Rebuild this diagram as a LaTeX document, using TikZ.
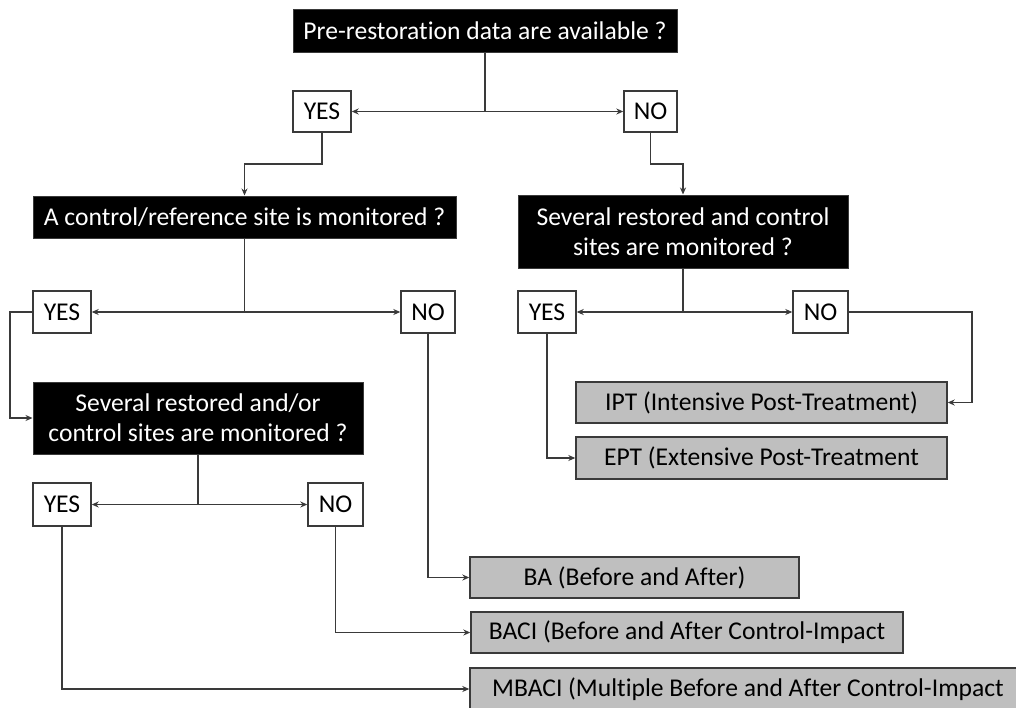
\documentclass[tikz,border=0pt]{standalone}
\usepackage{fontspec}
\setmainfont{Carlito}[Ligatures={NoCommon}]
\usetikzlibrary{arrows.meta}
\definecolor{lc}{HTML}{3A3A3A}
\definecolor{rg}{HTML}{BFBFBF}
\tikzset{
  base/.style={inner sep=0pt, align=center, font=\fontsize{25.6}{30}\selectfont},
  qbox/.style={base, fill=black, draw=lc, line width=1pt, text=white},
  ybox/.style={base, fill=white, draw=lc, line width=1.4pt, text=black},
  rbox/.style={base, fill=rg, draw=lc, line width=1.4pt, text=black},
  conn/.style={draw=lc, line width=1.5pt, -{Stealth[length=7pt,width=6pt]}}
}
\begin{document}
\begin{tikzpicture}[x=1pt,y=-1pt]
\useasboundingbox (0,0) rectangle (1016,707);
\clip (0,0) rectangle (1016,707);
% questions
\node[qbox, minimum width=384pt, minimum height=43pt] (q1) at (485,30.5) {Pre-restoration data are available ?};
\node[qbox, minimum width=423pt, minimum height=42pt] (q2) at (244.5,217) {A control/reference site is monitored ?};
\node[qbox, minimum width=330pt, minimum height=73pt] (q3) at (683,231.5) {Several restored and control\\sites are monitored ?};
\node[qbox, minimum width=330pt, minimum height=72pt] (q4) at (198,418) {Several restored and/or\\control sites are monitored ?};
% yes / no
\node[ybox, minimum width=58pt, minimum height=41pt] (y1) at (322,111.5) {YES};
\node[ybox, minimum width=53pt, minimum height=41pt] (n1) at (650.5,111.5) {NO};
\node[ybox, minimum width=58pt, minimum height=42pt] (y2) at (62,312) {YES};
\node[ybox, minimum width=54pt, minimum height=42pt] (n2) at (428,312) {NO};
\node[ybox, minimum width=58pt, minimum height=42pt] (y3r) at (547,312) {YES};
\node[ybox, minimum width=55pt, minimum height=42pt] (n3r) at (820.5,312) {NO};
\node[ybox, minimum width=58pt, minimum height=43pt] (y3) at (62,504.5) {YES};
\node[ybox, minimum width=55pt, minimum height=43pt] (n3) at (335.5,504.5) {NO};
% results
\node[rbox, minimum width=371pt, minimum height=41pt] (ipt) at (761.5,402.5) {IPT (Intensive Post-Treatment)};
\node[rbox, minimum width=371pt, minimum height=42pt] (ept) at (761.5,458) {EPT (Extensive Post-Treatment};
\node[rbox, minimum width=329pt, minimum height=41pt] (ba) at (634.5,577.5) {BA (Before and After)};
\node[rbox, minimum width=432pt, minimum height=41pt] (baci) at (687,632.5) {BACI (Before and After Control-Impact};
\node[rbox, minimum width=556pt, minimum height=42pt] (mbaci) at (748,689) {MBACI (Multiple Before and After Control-Impact};
% helper coordinates
\coordinate (k1) at (0,164);
\coordinate (k2) at (10,0);
\coordinate (k3) at (972,0);
% connectors
\draw[conn] (q1.south) |- (y1.east);
\draw[conn] (q1.south) |- (n1.west);
\draw[conn] (y1.south) -- (y1.south |- k1) -| (q2.north);
\draw[conn] (n1.south) -- (n1.south |- k1) -| (q3.north);
\draw[conn] (q2.south) |- (y2.east);
\draw[conn] (q2.south) |- (n2.west);
\draw[conn] (q3.south) |- (y3r.east);
\draw[conn] (q3.south) |- (n3r.west);
\draw[conn] (y2.west) -- (k2 |- y2.west) |- (q4.west);
\draw[conn] (n3r.east) -- (k3 |- n3r.east) |- (ipt.east);
\draw[conn] (y3r.south) |- (ept.west);
\draw[conn] (q4.south) |- (y3.east);
\draw[conn] (q4.south) |- (n3.west);
\draw[conn] (n2.south) |- (ba.west);
\draw[conn] (n3.south) |- (baci.west);
\draw[conn] (y3.south) |- (mbaci.west);
\end{tikzpicture}
\end{document}
